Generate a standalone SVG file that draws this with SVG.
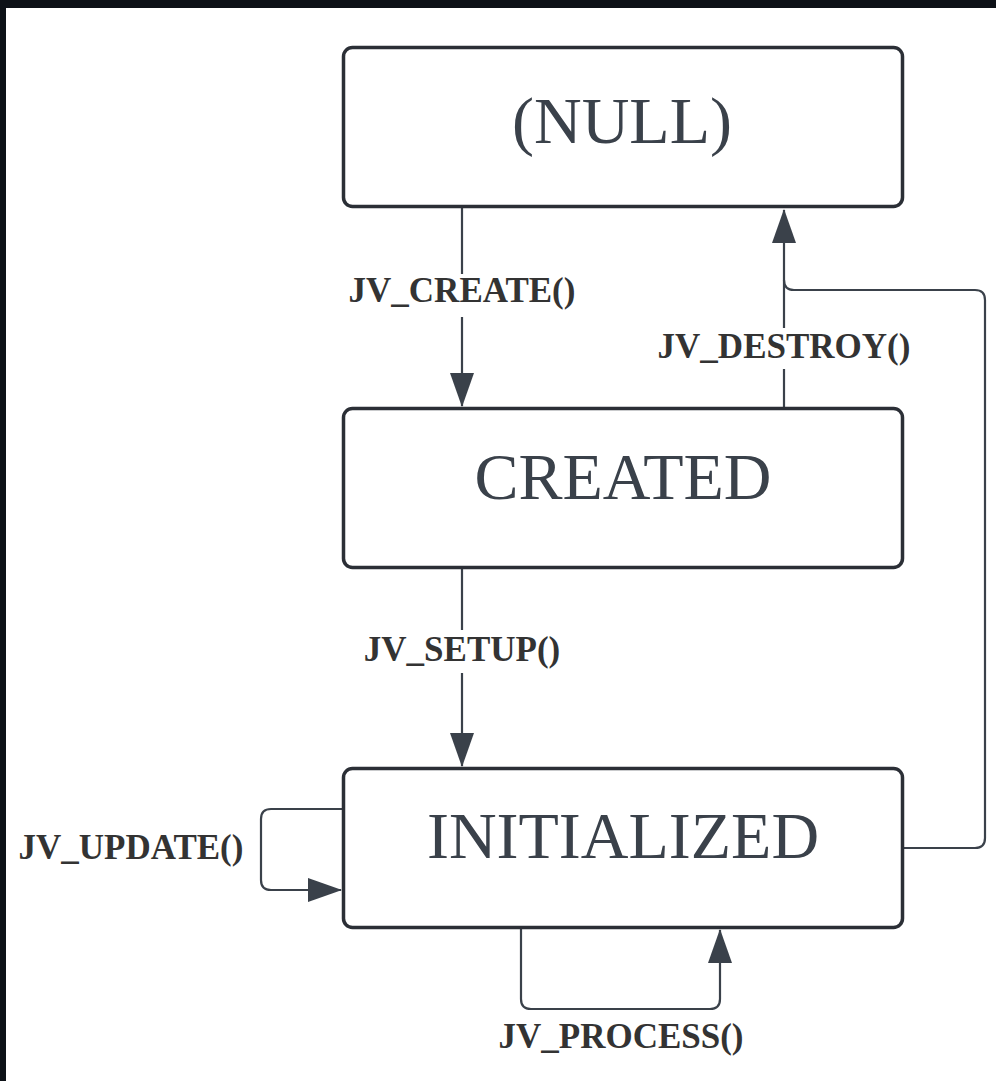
<svg xmlns="http://www.w3.org/2000/svg" width="996" height="1081" viewBox="0 0 996 1081">
<style>
.node rect{fill:#fff;stroke:#2b2f36;stroke-width:3.5}
.node text{font-family:"Liberation Serif",serif;font-size:66px;fill:#3a414a;text-anchor:middle}
.conn path{fill:none;stroke:#3a414a;stroke-width:2.2}
.lbl rect{fill:#fff}
.lbl text{font-family:"Liberation Serif",serif;font-weight:bold;font-size:35px;fill:#333;text-anchor:middle}
</style>
<defs>
<marker id="ah" markerUnits="userSpaceOnUse" markerWidth="34" markerHeight="24" viewBox="0 0 34 24" refX="33" refY="12" orient="auto">
<path d="M0,0 L34,12 L0,24 Z" fill="#3a414a"/>
</marker>
</defs>
<rect x="0" y="0" width="996" height="1081" fill="#fff"/>
<rect x="0" y="0" width="996" height="8" fill="#0d1117"/>
<rect x="0" y="0" width="6" height="1081" fill="#0d1117"/>
<g class="conn">
<path d="M462,208 L462,406" marker-end="url(#ah)"/>
<path d="M784,408 L784,210" marker-end="url(#ah)"/>
<path d="M904,848 L975,848 Q985,848 985,838 L985,300 Q985,290 975,290 L794,290 Q784,290 784,280"/>
<path d="M462,568 L462,766" marker-end="url(#ah)"/>
<path d="M343,809 L271,809 Q261,809 261,819 L261,880 Q261,890 271,890 L341,890" marker-end="url(#ah)"/>
<path d="M521,928 L521,999 Q521,1009 531,1009 L710,1009 Q720,1009 720,999 L720,930" marker-end="url(#ah)"/>
</g>
<g id="null" class="node"><rect x="343.5" y="47.5" width="559" height="159" rx="9"/><text x="622" y="143">(NULL)</text></g>
<g id="created" class="node"><rect x="343.5" y="408.5" width="559" height="159" rx="9"/><text x="623" y="499">CREATED</text></g>
<g id="initialized" class="node"><rect x="343.5" y="768.5" width="559" height="159" rx="9"/><text x="623" y="858">INITIALIZED</text></g>
<g class="lbl">
<rect x="344" y="274" width="236" height="43"/><text x="462" y="302">JV_CREATE()</text>
<rect x="652" y="328" width="264" height="41"/><text x="784" y="358">JV_DESTROY()</text>
<rect x="358" y="630" width="208" height="43"/><text x="462" y="661">JV_SETUP()</text>
<text x="131" y="859">JV_UPDATE()</text>
<text x="621" y="1048">JV_PROCESS()</text>
</g>
</svg>
